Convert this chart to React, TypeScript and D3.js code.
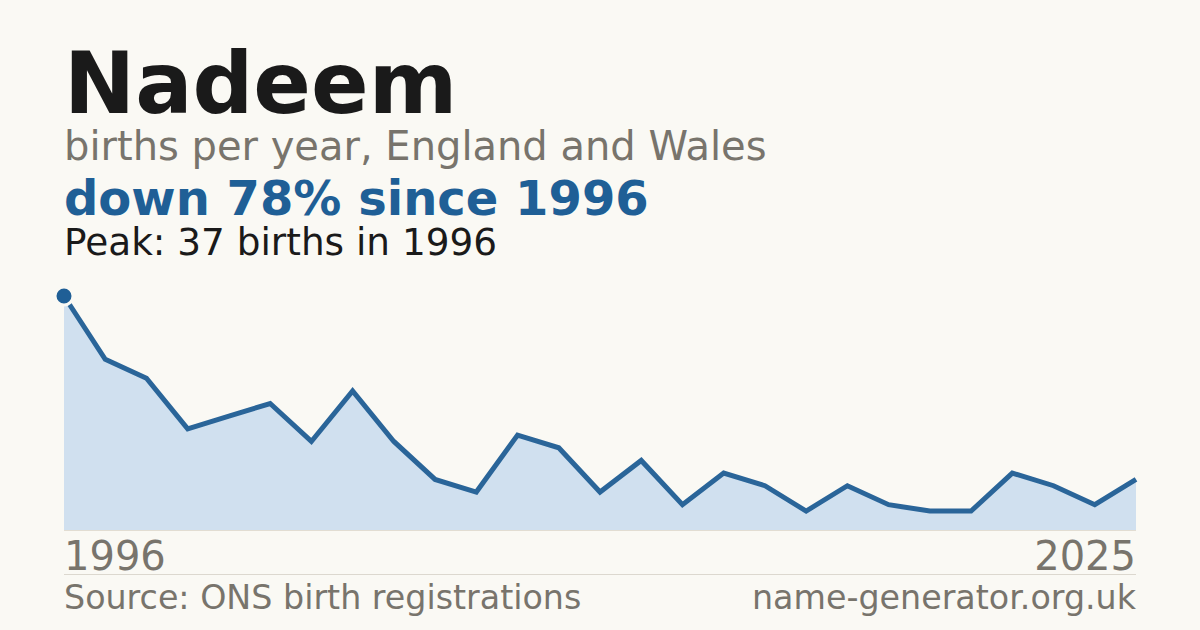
import React from 'react';
import * as d3 from 'd3';

const name = 'Nadeem';
const years = [
  1996, 1997, 1998, 1999, 2000, 2001, 2002, 2003, 2004, 2005, 2006, 2007, 2008,
  2009, 2010, 2011, 2012, 2013, 2014, 2015, 2016, 2017, 2018, 2019, 2021, 2023,
  2025,
];
const births = [
  37, 27, 24, 16, 18, 20, 14, 22, 14, 8, 6, 15, 13, 6, 11, 4, 9, 7, 3, 7, 4, 3,
  3, 9, 7, 4, 8,
];

const W = 1200;
const H = 630;
const left = 64;
const right = 1136;
const baseY = 530;
const topY = 296;

const grey = '#78746c';
const blue = '#1f5f96';
const bg = '#faf9f4';
const font = "'DejaVu Sans', sans-serif";

const App: React.FC = () => {
  const data = years.map((y, i) => ({ year: y, value: births[i] }));
  const peak = data.reduce((a, b) => (b.value > a.value ? b : a));
  const last = data[data.length - 1];
  const change = Math.round((1 - last.value / peak.value) * 100);

  const x = d3.scalePoint<number>().domain(years).range([left, right]);
  const y = d3
    .scaleLinear()
    .domain([0, d3.max(births) as number])
    .range([baseY, topY]);

  const line = d3
    .line<{ year: number; value: number }>()
    .x((d) => x(d.year) as number)
    .y((d) => y(d.value));
  const area = d3
    .area<{ year: number; value: number }>()
    .x((d) => x(d.year) as number)
    .y0(baseY)
    .y1((d) => y(d.value));

  return (
    <svg
      width={W}
      height={H}
      style={{ position: 'absolute', left: 0, top: 0, background: bg }}
      fontFamily={font}
    >
      <rect width={W} height={H} fill={bg} />
      <text x={left} y={113} fontSize={85} fontWeight="bold" fill="#1a1a1a">
        {name}
      </text>
      <text x={left} y={160} fontSize={40} fill={grey}>
        births per year, England and Wales
      </text>
      <text x={left} y={215} fontSize={48} fontWeight="bold" fill={blue}>
        {`down ${change}% since ${peak.year}`}
      </text>
      <text x={left} y={255} fontSize={37.4} fill="#1a1a1a">
        {`Peak: ${peak.value} births in ${peak.year}`}
      </text>

      <path d={area(data) as string} fill="#d0e0ef" />
      <line x1={left} x2={right} y1={baseY + 0.5} y2={baseY + 0.5} stroke="#e2ddd2" strokeWidth={1} />
      <path
        d={line(data) as string}
        fill="none"
        stroke="#2a6599"
        strokeWidth={5}
        strokeLinejoin="miter"
      />
      <circle
        cx={x(peak.year) as number}
        cy={y(peak.value)}
        r={9}
        fill={blue}
        stroke={bg}
        strokeWidth={3}
      />

      <text x={left} y={570} fontSize={40} fill={grey}>
        {years[0]}
      </text>
      <text x={right} y={570} fontSize={40} fill={grey} textAnchor="end">
        {years[years.length - 1]}
      </text>
      <line x1={left} x2={right} y1={574.5} y2={574.5} stroke="#dcd8cf" strokeWidth={1} />
      <text x={left} y={609} fontSize={33.3} fill={grey}>
        Source: ONS birth registrations
      </text>
      <text x={right} y={609} fontSize={33.3} fill={grey} textAnchor="end">
        name-generator.org.uk
      </text>
    </svg>
  );
};

export default App;
